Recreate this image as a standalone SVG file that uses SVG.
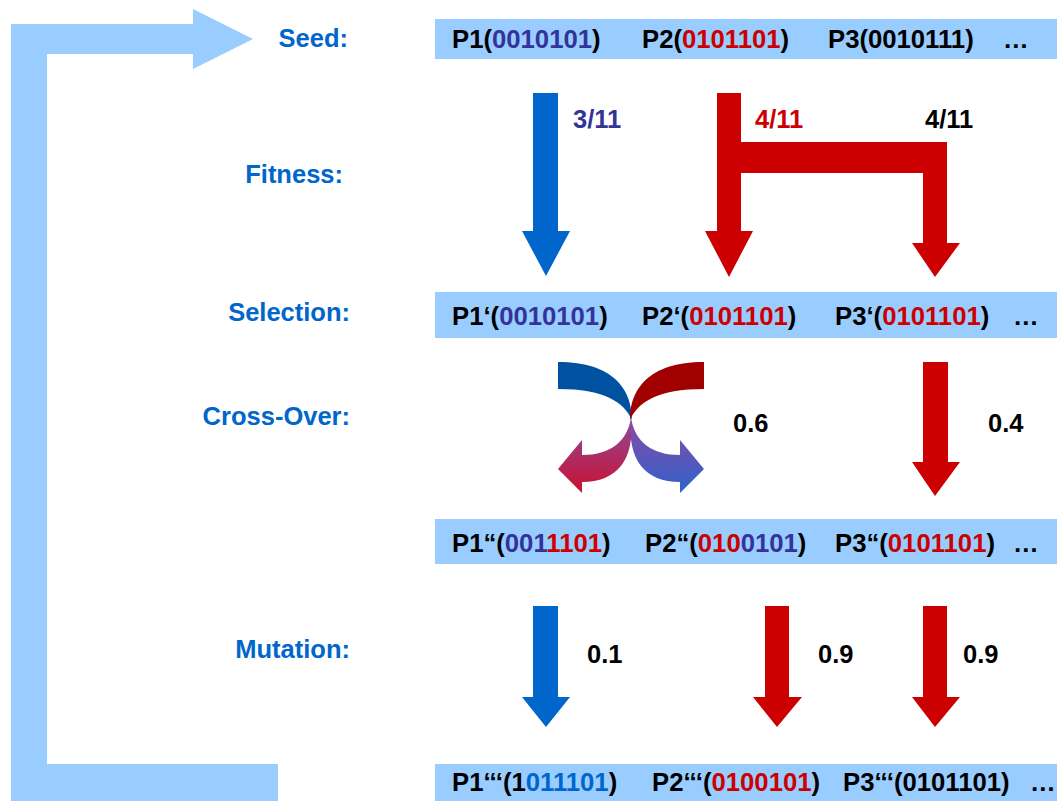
<svg xmlns="http://www.w3.org/2000/svg" width="1059" height="801" viewBox="0 0 1059 801">
  <style>
    text { font-family: "Liberation Sans", Arial, sans-serif; font-weight: bold; }
    .lbl { fill: #0066CC; font-size: 25.5px; text-anchor: end; }
    .pop { fill: #000000; font-size: 25.7px; }
    .num { fill: #000000; font-size: 25.5px; }
    .box { fill: #99CCFF; }
    .b { fill: #333399; }
    .r { fill: #CC0000; }
    .lb { fill: #0066CC; }
    .blue { fill: #0066CC; }
    .red { fill: #CC0000; }
  </style>
  <defs>
    <linearGradient id="gLeft" x1="0" y1="0" x2="0" y2="1">
      <stop offset="0" stop-color="#8E4A9A"/>
      <stop offset="1" stop-color="#CC1030"/>
    </linearGradient>
    <linearGradient id="gRight" x1="0" y1="0" x2="0" y2="1">
      <stop offset="0" stop-color="#8A4AA4"/>
      <stop offset="1" stop-color="#2F62CC"/>
    </linearGradient>
  </defs>

  <!-- feedback loop from the last generation back to the seed -->
  <g id="loop">
    <path fill="#99CCFF" d="M11,24 L193,24 L193,9 L253,39 L193,69 L193,54 L47,54 L47,764 L278,764 L278,801 L11,801 Z"/>
  </g>

  <!-- stage labels -->
  <g id="labels">
    <text class="lbl" x="348" y="47">Seed:</text>
    <text class="lbl" x="343" y="183">Fitness:</text>
    <text class="lbl" x="350" y="321">Selection:</text>
    <text class="lbl" x="350" y="425">Cross-Over:</text>
    <text class="lbl" x="350" y="658">Mutation:</text>
  </g>

  <!-- population rows -->
  <g id="row-seed">
    <rect class="box" x="435" y="19" width="622" height="40"/>
    <text class="pop" x="452" y="48">P1(<tspan class="b">0010101</tspan>)</text>
    <text class="pop" x="642" y="48">P2(<tspan class="r">0101101</tspan>)</text>
    <text class="pop" x="828" y="48">P3(0010111)</text>
    <text class="pop" x="1003" y="48">…</text>
  </g>
  <g id="row-selection">
    <rect class="box" x="435" y="292" width="622" height="46"/>
    <text class="pop" x="452" y="325">P1‘(<tspan class="b">0010101</tspan>)</text>
    <text class="pop" x="642" y="325">P2‘(<tspan class="r">0101101</tspan>)</text>
    <text class="pop" x="835" y="325">P3‘(<tspan class="r">0101101</tspan>)</text>
    <text class="pop" x="1013" y="325">…</text>
  </g>
  <g id="row-crossover">
    <rect class="box" x="435" y="519" width="622" height="45"/>
    <text class="pop" x="452" y="552">P1“(<tspan class="b">001</tspan><tspan class="r">1101</tspan>)</text>
    <text class="pop" x="645" y="552">P2“(<tspan class="r">010</tspan><tspan class="b">0101</tspan>)</text>
    <text class="pop" x="835" y="552">P3“(<tspan class="r">0101101</tspan>)</text>
    <text class="pop" x="1013" y="552">…</text>
  </g>
  <g id="row-mutation">
    <rect class="box" x="435" y="764" width="622" height="37"/>
    <text class="pop" x="452" y="791">P1‘‘‘(1<tspan class="lb">011101</tspan>)</text>
    <text class="pop" x="652" y="791">P2‘‘‘(<tspan class="r">0100101</tspan>)</text>
    <text class="pop" x="843" y="791">P3‘‘‘(0101101)</text>
    <text class="pop" x="1030" y="791">…</text>
  </g>

  <!-- transitions between rows -->
  <g id="connectors">
    <!-- fitness -->
    <path class="blue" d="M533,93 L558,93 L558,231 L570,231 L546,276 L522,231 L533,231 Z"/>
    <path class="red" d="M717,93 L741,93 L741,142 L947,142 L947,243 L960,243 L935,277 L912,243 L923,243 L923,173 L741,173 L741,231 L753,231 L729,277 L705,231 L717,231 Z"/>
    <text class="num b" x="573" y="128">3/11</text>
    <text class="num r" x="755" y="128">4/11</text>
    <text class="num" x="925" y="128">4/11</text>

    <!-- cross-over -->
    <path fill="#0052A0" d="M558,362 C614,362 632,390 632,420 C624,402 604,389 558,389 Z"/>
    <path fill="#A00000" d="M704,362 C648,362 630,390 630,420 C638,402 658,389 704,389 Z"/>
    <path fill="url(#gLeft)" d="M631,418 C627,442 610,455 582,455 L582,440 L558,469 L582,493 L582,482 C617,482 635,460 631,418 Z"/>
    <path fill="url(#gRight)" d="M631,418 C635,442 652,455 680,455 L680,440 L704,469 L680,493 L680,482 C645,482 627,460 631,418 Z"/>
    <path class="red" d="M923,362 L948,362 L948,462 L960,462 L935,496 L912,462 L923,462 Z"/>
    <text class="num" x="733" y="432">0.6</text>
    <text class="num" x="988" y="432">0.4</text>

    <!-- mutation -->
    <path class="blue" d="M533,606 L558,606 L558,697 L570,697 L546,727 L522,697 L533,697 Z"/>
    <path class="red" d="M765,606 L789,606 L789,697 L802,697 L777,727 L753,697 L765,697 Z"/>
    <path class="red" d="M923,606 L947,606 L947,697 L960,697 L935,727 L912,697 L923,697 Z"/>
    <text class="num" x="587" y="663">0.1</text>
    <text class="num" x="818" y="663">0.9</text>
    <text class="num" x="963" y="663">0.9</text>
  </g>
</svg>
